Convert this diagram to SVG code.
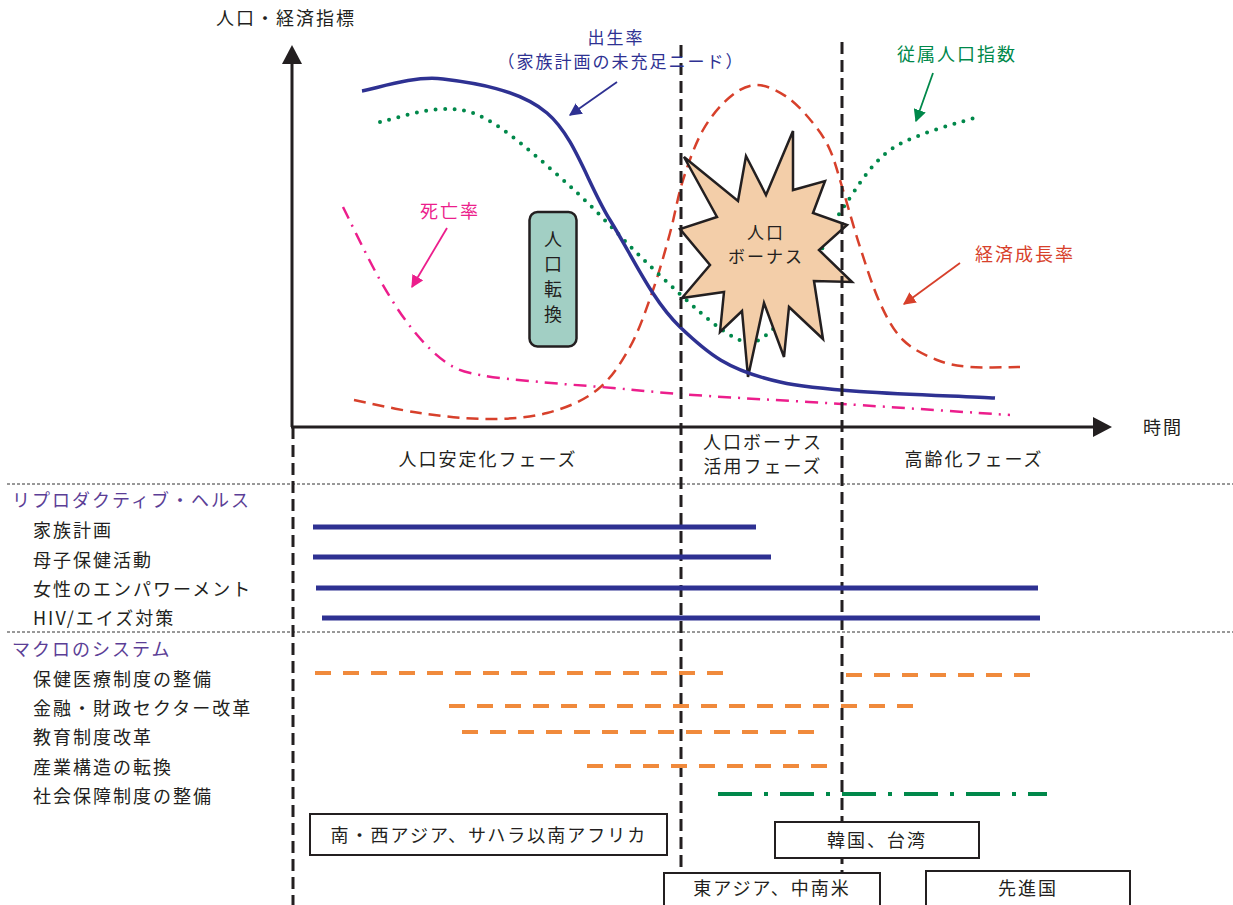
<svg xmlns="http://www.w3.org/2000/svg" width="1233" height="905" viewBox="0 0 1233 905">
<defs>
<style>
text{font-family:"Noto Sans CJK JP","Noto Sans",sans-serif;font-size:18px;letter-spacing:2px;fill:#231f20}
.mid{text-anchor:middle}
.sec{fill:#5b3e96}
.vd{stroke:#231f20;stroke-width:3;stroke-dasharray:12 6;fill:none}
.hd{stroke:#333;stroke-width:1;stroke-dasharray:3 2;fill:none}
.bb{stroke:#2e3192;stroke-width:5;fill:none}
.ob{stroke:#f08a3c;stroke-width:4;stroke-dasharray:16 12;fill:none}
.box{fill:#fff;stroke:#231f20;stroke-width:2}
.sm{font-size:17px}
</style>
<marker id="ab" viewBox="0 0 10 10" refX="9" refY="5" markerWidth="7" markerHeight="7" orient="auto"><path d="M0,0L10,5L0,10z" fill="#2e3192"/></marker>
<marker id="am" viewBox="0 0 10 10" refX="9" refY="5" markerWidth="7" markerHeight="7" orient="auto"><path d="M0,0L10,5L0,10z" fill="#ec1e8c"/></marker>
<marker id="ag" viewBox="0 0 10 10" refX="9" refY="5" markerWidth="7" markerHeight="7" orient="auto"><path d="M0,0L10,5L0,10z" fill="#00884a"/></marker>
<marker id="ar" viewBox="0 0 10 10" refX="9" refY="5" markerWidth="7" markerHeight="7" orient="auto"><path d="M0,0L10,5L0,10z" fill="#d7402b"/></marker>
</defs>
<rect width="1233" height="905" fill="#fff"/>

<g id="separators">
<line class="hd" x1="7" y1="484" x2="1233" y2="484"/>
<line class="hd" x1="7" y1="632" x2="1233" y2="632"/>
</g>

<g id="curves">
<path id="curve-red" d="M354,400 C365,402.2 397.8,409.8 420,413 S465.8,419 487,419 S528.7,417.8 547,413 S583.2,401 597,390 S620.7,363.7 630,347 S646.3,309 653,290 S665,251.3 670,233 S677.5,197.2 683,180 S695.2,143.8 703,130 S721,104.5 730,97 S747.5,85 757,85 S777.7,90.7 787,97 S805.8,114.2 813,123 S825,138.8 830,150 S838,173.8 843,190 S853.8,228.2 860,247 S872.8,287.5 880,303 S893.5,330.5 903,340 S925.8,355.5 937,360 S956.2,365.8 970,367 S1011.7,367 1020,367" fill="none" stroke="#d7402b" stroke-width="2.5" stroke-dasharray="12 7"/>
<path id="curve-green" d="M380,122 C390.5,119.8 424.2,108.8 443,109 S471.3,109.7 493,123 S547.3,165.7 573,189 S623.7,240.7 647,263 S696.2,309.8 713,323 S738.2,340.8 748,342 S764.2,337 772,330 S786.5,313.8 795,300 S814.7,262.8 823,247 S833.3,221.5 845,205 S870.5,162.8 893,148 S965.5,121.3 980,116" fill="none" stroke="#00884a" stroke-width="4" stroke-linecap="round" stroke-dasharray="0 9.5"/>
<path id="curve-magenta" d="M343,207 C349.2,219.2 368.3,259.5 380,280 S401.8,316.2 413,330 S435.8,355.5 447,363 S464.5,371.8 480,375 S517.8,379.8 540,382 S587.5,385.8 613,388 S654.8,392.3 693,395 S789.2,400.7 842,404 S982,413.2 1010,415" fill="none" stroke="#ec1e8c" stroke-width="2.5" stroke-dasharray="13 7 2 7"/>
</g>

<g id="node-bonus">
<polygon points="684,157 738,201 746,156 766,195 793,131 793,190 825,181 813,213 847,225 819,250 852,282 814,281 823,339 789,307 784,357 764,303 748,377 742,311 720,332 724,292 682,298 710,265 680,229 717,217" fill="#f3cea9" stroke="#231f20" stroke-width="2.5" stroke-linejoin="miter"/>
<text class="mid sm" x="766" y="239">人口</text>
<text class="mid sm" x="766" y="263">ボーナス</text>
</g>

<path id="curve-blue" d="M362,91 C375.5,89 412.2,75.3 443,79 S519.2,89.5 547,113 S587.8,184.3 610,220 S651.7,300 680,327 S727.5,370.2 780,382 S959.2,395.3 995,398" fill="none" stroke="#2e3192" stroke-width="3.5"/>

<g id="node-transition">
<rect x="529.5" y="212" width="47" height="134.5" rx="8" fill="#a2cfc4" stroke="#231f20" stroke-width="2.5"/>
<text class="mid" x="553" y="246" style="letter-spacing:0">人</text>
<text class="mid" x="553" y="271" style="letter-spacing:0">口</text>
<text class="mid" x="553" y="296" style="letter-spacing:0">転</text>
<text class="mid" x="553" y="321" style="letter-spacing:0">換</text>
</g>

<g id="phase-lines">
<line class="vd" x1="293" y1="427" x2="293" y2="905"/>
<line class="vd" x1="681" y1="45" x2="681" y2="905"/>
<line class="vd" x1="842" y1="42" x2="842" y2="905"/>
</g>

<g id="axes">
<line x1="292" y1="427" x2="292" y2="60" stroke="#231f20" stroke-width="3"/>
<polygon points="292,45 282,64 302,64" fill="#231f20"/>
<line x1="291" y1="427" x2="1096" y2="427" stroke="#231f20" stroke-width="3"/>
<polygon points="1112,427 1093,417 1093,437" fill="#231f20"/>
<text x="216" y="25">人口・経済指標</text>
<text x="1143" y="434">時間</text>
</g>

<g id="curve-labels">
<text class="mid sm" x="616" y="44" style="fill:#2e3192">出生率</text>
<text class="mid sm" x="621" y="68" style="fill:#2e3192">（家族計画の未充足ニード）</text>
<text class="mid" x="450" y="218" style="fill:#ec1e8c">死亡率</text>
<text class="mid" x="957" y="61" style="fill:#00884a">従属人口指数</text>
<text class="mid" x="1025" y="261" style="fill:#d7402b">経済成長率</text>
</g>

<g id="connectors">
<line x1="617" y1="82" x2="570" y2="115" stroke="#2e3192" stroke-width="1.8" marker-end="url(#ab)"/>
<line x1="447" y1="228" x2="412" y2="287" stroke="#ec1e8c" stroke-width="1.8" marker-end="url(#am)"/>
<line x1="933" y1="73" x2="916" y2="121" stroke="#00884a" stroke-width="1.8" marker-end="url(#ag)"/>
<line x1="960" y1="263" x2="904" y2="304" stroke="#d7402b" stroke-width="1.8" marker-end="url(#ar)"/>
</g>

<g id="phase-labels">
<text class="mid" x="488" y="466">人口安定化フェーズ</text>
<text class="mid" x="763" y="449">人口ボーナス</text>
<text class="mid" x="763" y="473">活用フェーズ</text>
<text class="mid" x="974" y="466">高齢化フェーズ</text>
</g>

<g id="rh">
<text class="sec" x="12" y="507">リプロダクティブ・ヘルス</text>
<text x="33" y="537">家族計画</text>
<text x="33" y="567">母子保健活動</text>
<text x="33" y="596">女性のエンパワーメント</text>
<text x="33" y="625">HIV/エイズ対策</text>
<line class="bb" x1="313" y1="527" x2="756" y2="527"/>
<line class="bb" x1="313" y1="557" x2="771" y2="557"/>
<line class="bb" x1="316" y1="588" x2="1038" y2="588"/>
<line class="bb" x1="322" y1="618" x2="1040" y2="618"/>
</g>

<g id="macro">
<text class="sec" x="12" y="656">マクロのシステム</text>
<text x="33" y="686">保健医療制度の整備</text>
<text x="33" y="715">金融・財政セクター改革</text>
<text x="33" y="744">教育制度改革</text>
<text x="33" y="774">産業構造の転換</text>
<text x="33" y="803">社会保障制度の整備</text>
<line class="ob" x1="315" y1="673" x2="723" y2="673"/>
<line class="ob" x1="846" y1="675" x2="1038" y2="675"/>
<line class="ob" x1="449" y1="706" x2="920" y2="706"/>
<line class="ob" x1="462" y1="732" x2="826" y2="732"/>
<line class="ob" x1="587" y1="766" x2="836" y2="766"/>
<line x1="718" y1="794" x2="1047" y2="794" stroke="#00884a" stroke-width="4" stroke-dasharray="34 12 4 12"/>
</g>

<g id="box-south">
<rect class="box" x="310" y="814" width="357" height="41"/>
<text class="mid" x="489" y="842">南・西アジア、サハラ以南アフリカ</text>
</g>
<g id="box-korea">
<rect class="box" x="775" y="822" width="204" height="36"/>
<text class="mid" x="877" y="847">韓国、台湾</text>
</g>
<g id="box-east">
<rect class="box" x="664" y="873" width="216" height="40"/>
<text class="mid" x="772" y="895">東アジア、中南米</text>
</g>
<g id="box-dev">
<rect class="box" x="926" y="871" width="204" height="42"/>
<text class="mid" x="1028" y="895">先進国</text>
</g>
</svg>
